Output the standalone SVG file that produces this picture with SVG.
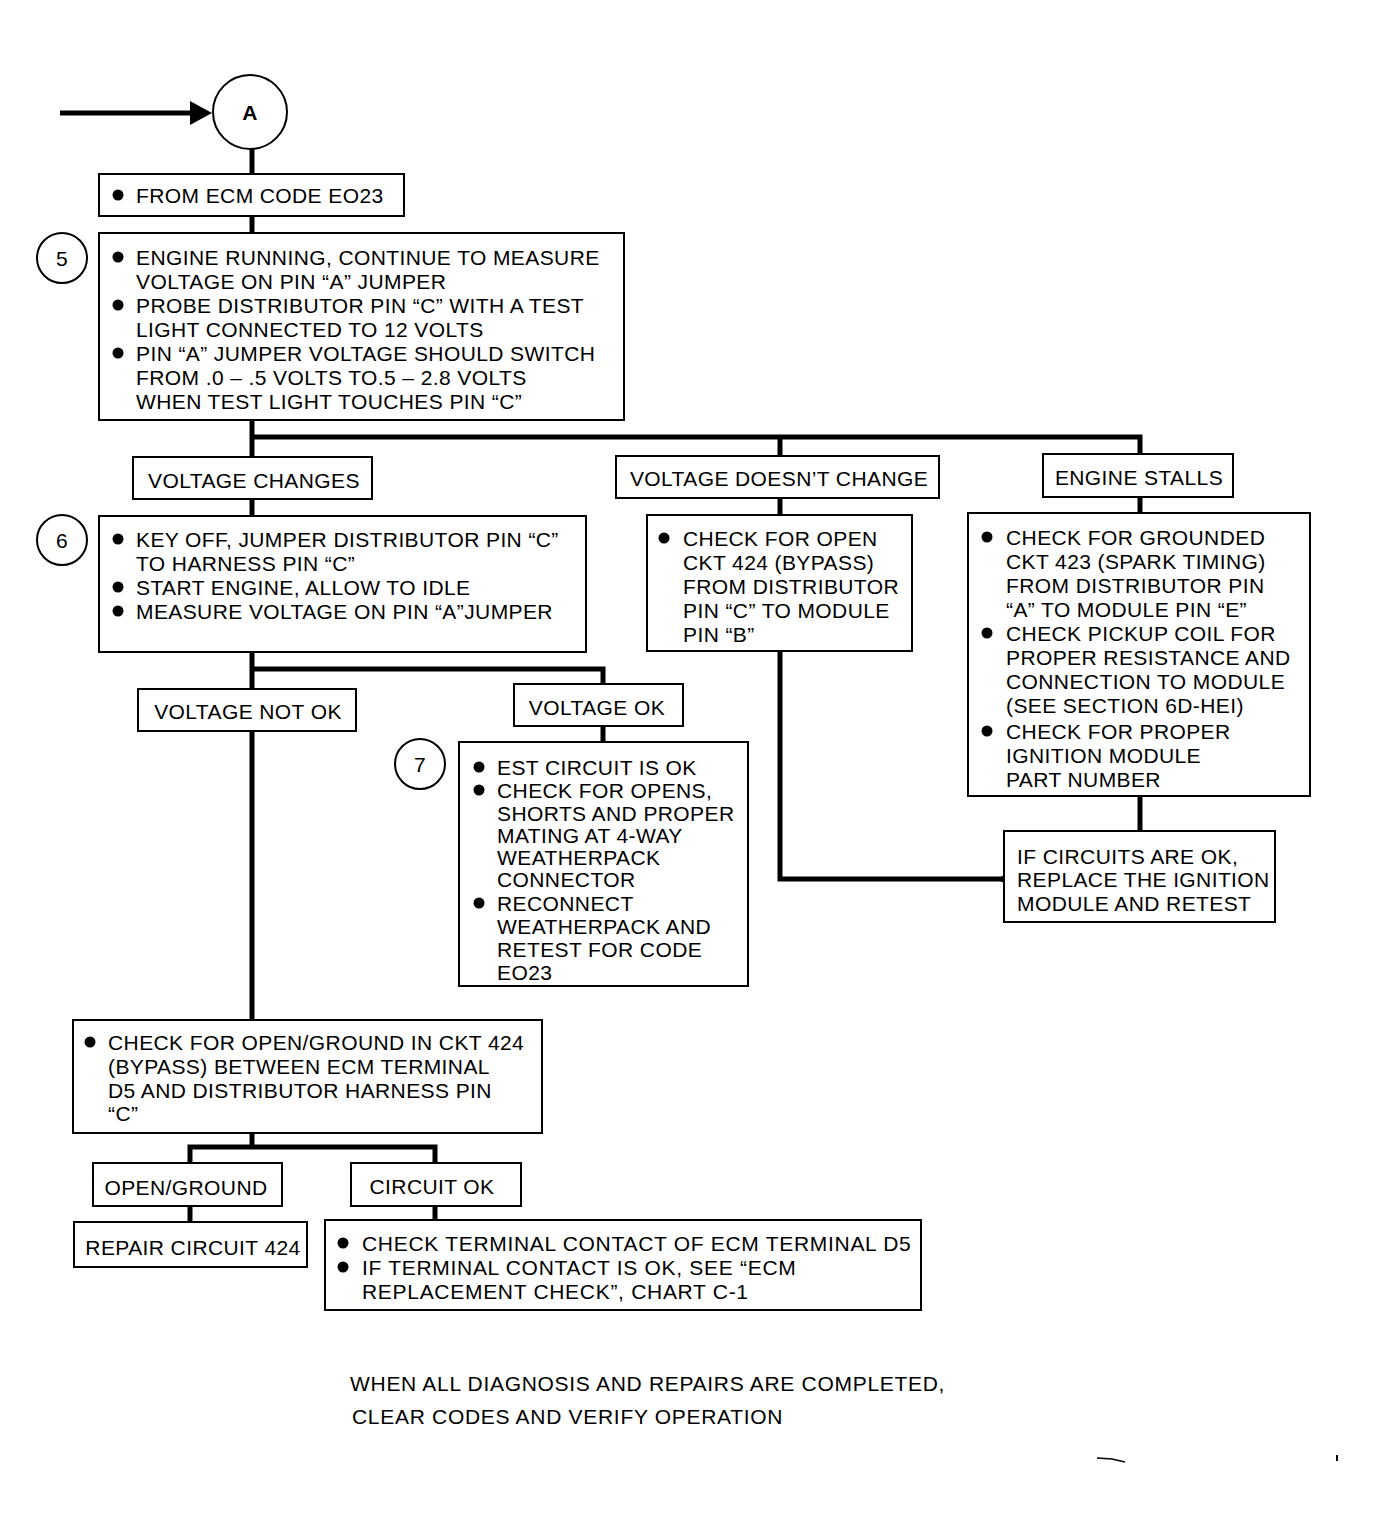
<svg xmlns="http://www.w3.org/2000/svg" width="1378" height="1538" viewBox="0 0 1378 1538">
<style>
.t{font-family:"Liberation Sans",Arial,sans-serif;font-size:21px;letter-spacing:0.4px;fill:#000}
.w{letter-spacing:0.7px}
.m{text-anchor:middle}
.bx{fill:#fff;stroke:#000;stroke-width:2}
.cn{fill:none;stroke:#000;stroke-width:5}
.ci{fill:#fff;stroke:#000;stroke-width:2}
</style>
<rect width="1378" height="1538" fill="#fff"/>
<g id="connectors">
<line class="cn" x1="60" y1="113" x2="195" y2="113"/>
<polygon points="190,101 212,113 190,125" fill="#000"/>
<line class="cn" x1="252" y1="148" x2="252" y2="174"/>
<line class="cn" x1="252" y1="216" x2="252" y2="233"/>
<polyline class="cn" points="252,420 252,516"/>
<polyline class="cn" points="252,437 1140,437 1140,454"/>
<line class="cn" x1="780" y1="437" x2="780" y2="456"/>
<line class="cn" x1="780" y1="498" x2="780" y2="515"/>
<line class="cn" x1="1140" y1="497" x2="1140" y2="513"/>
<line class="cn" x1="1140" y1="796" x2="1140" y2="831"/>
<polyline class="cn" points="780,651 780,879 1004,879"/>
<circle cx="1004" cy="879" r="3.5" fill="#000"/>
<line class="cn" x1="252" y1="652" x2="252" y2="1020"/>
<polyline class="cn" points="252,669 603,669 603,684"/>
<line class="cn" x1="603" y1="726" x2="603" y2="742"/>
<line class="cn" x1="252" y1="1133" x2="252" y2="1147"/>
<polyline class="cn" points="190,1163 190,1147 435,1147 435,1163"/>
<line class="cn" x1="190" y1="1206" x2="190" y2="1222"/>
<line class="cn" x1="435" y1="1206" x2="435" y2="1220"/>
</g>
<g id="nodeA">
<circle class="ci" cx="250" cy="112" r="37"/>
<text class="t m" x="250" y="120" font-size="22" font-weight="bold">A</text>
</g>
<g id="box1">
<rect class="bx" x="99" y="174" width="305" height="42"/>
<circle cx="118" cy="195" r="5.5"/>
<text class="t" x="136" y="203">FROM ECM CODE EO23</text>
</g>
<g id="step5">
<circle class="ci" cx="62" cy="258" r="25"/>
<text class="t m" x="62" y="266">5</text>
</g>
<g id="box5">
<rect class="bx" x="99" y="233" width="525" height="187"/>
<circle cx="118" cy="257" r="5.5"/>
<circle cx="118" cy="305" r="5.5"/>
<circle cx="118" cy="353" r="5.5"/>
<text class="t" x="136" y="265">ENGINE RUNNING, CONTINUE TO MEASURE</text>
<text class="t" x="136" y="289">VOLTAGE ON PIN “A” JUMPER</text>
<text class="t" x="136" y="313">PROBE DISTRIBUTOR PIN “C” WITH A TEST</text>
<text class="t" x="136" y="337">LIGHT CONNECTED TO 12 VOLTS</text>
<text class="t" x="136" y="361">PIN “A” JUMPER VOLTAGE SHOULD SWITCH</text>
<text class="t" x="136" y="385">FROM .0 – .5 VOLTS TO.5 – 2.8 VOLTS</text>
<text class="t" x="136" y="409">WHEN TEST LIGHT TOUCHES PIN “C”</text>
</g>
<g id="voltageChanges">
<rect class="bx" x="133" y="457" width="239" height="42"/>
<text class="t m" x="254" y="488">VOLTAGE CHANGES</text>
</g>
<g id="voltageDoesntChange">
<rect class="bx" x="616" y="456" width="323" height="42"/>
<text class="t m" x="779" y="486">VOLTAGE DOESN’T CHANGE</text>
</g>
<g id="engineStalls">
<rect class="bx" x="1043" y="454" width="190" height="43"/>
<text class="t m" x="1139" y="485">ENGINE STALLS</text>
</g>
<g id="step6">
<circle class="ci" cx="62" cy="540" r="25"/>
<text class="t m" x="62" y="548">6</text>
</g>
<g id="box6">
<rect class="bx" x="99" y="516" width="487" height="136"/>
<circle cx="118" cy="539" r="5.5"/>
<circle cx="118" cy="587" r="5.5"/>
<circle cx="118" cy="611" r="5.5"/>
<text class="t" x="136" y="547">KEY OFF, JUMPER DISTRIBUTOR PIN “C”</text>
<text class="t" x="136" y="571">TO HARNESS PIN “C”</text>
<text class="t" x="136" y="595">START ENGINE, ALLOW TO IDLE</text>
<text class="t" x="136" y="619">MEASURE VOLTAGE ON PIN “A”JUMPER</text>
</g>
<g id="boxOpen424">
<rect class="bx" x="647" y="515" width="265" height="136"/>
<circle cx="664" cy="538" r="5.5"/>
<text class="t" x="683" y="546">CHECK FOR OPEN</text>
<text class="t" x="683" y="570">CKT 424 (BYPASS)</text>
<text class="t" x="683" y="594">FROM DISTRIBUTOR</text>
<text class="t" x="683" y="618">PIN “C” TO MODULE</text>
<text class="t" x="683" y="642">PIN “B”</text>
</g>
<g id="boxGrounded">
<rect class="bx" x="968" y="513" width="342" height="283"/>
<circle cx="987" cy="537" r="5.5"/>
<circle cx="987" cy="633" r="5.5"/>
<circle cx="987" cy="731" r="5.5"/>
<text class="t" x="1006" y="545">CHECK FOR GROUNDED</text>
<text class="t" x="1006" y="569">CKT 423 (SPARK TIMING)</text>
<text class="t" x="1006" y="593">FROM DISTRIBUTOR PIN</text>
<text class="t" x="1006" y="617">“A” TO MODULE PIN “E”</text>
<text class="t" x="1006" y="641">CHECK PICKUP COIL FOR</text>
<text class="t" x="1006" y="665">PROPER RESISTANCE AND</text>
<text class="t" x="1006" y="689">CONNECTION TO MODULE</text>
<text class="t" x="1006" y="713">(SEE SECTION 6D-HEI)</text>
<text class="t" x="1006" y="739">CHECK FOR PROPER</text>
<text class="t" x="1006" y="763">IGNITION MODULE</text>
<text class="t" x="1006" y="787">PART NUMBER</text>
</g>
<g id="boxReplace">
<rect class="bx" x="1004" y="831" width="271" height="91"/>
<text class="t" x="1017" y="864">IF CIRCUITS ARE OK,</text>
<text class="t" x="1017" y="887">REPLACE THE IGNITION</text>
<text class="t" x="1017" y="911">MODULE AND RETEST</text>
</g>
<g id="voltageNotOk">
<rect class="bx" x="138" y="689" width="218" height="42"/>
<text class="t m" x="248" y="719">VOLTAGE NOT OK</text>
</g>
<g id="voltageOk">
<rect class="bx" x="514" y="684" width="169" height="42"/>
<text class="t m" x="597" y="715">VOLTAGE OK</text>
</g>
<g id="step7">
<circle class="ci" cx="420" cy="764" r="25"/>
<text class="t m" x="420" y="772">7</text>
</g>
<g id="box7">
<rect class="bx" x="459" y="742" width="289" height="244"/>
<circle cx="479" cy="767" r="5.5"/>
<circle cx="479" cy="790" r="5.5"/>
<circle cx="479" cy="903" r="5.5"/>
<text class="t" x="497" y="775">EST CIRCUIT IS OK</text>
<text class="t" x="497" y="798">CHECK FOR OPENS,</text>
<text class="t" x="497" y="821">SHORTS AND PROPER</text>
<text class="t" x="497" y="843">MATING AT 4-WAY</text>
<text class="t" x="497" y="865">WEATHERPACK</text>
<text class="t" x="497" y="887">CONNECTOR</text>
<text class="t" x="497" y="911">RECONNECT</text>
<text class="t" x="497" y="934">WEATHERPACK AND</text>
<text class="t" x="497" y="957">RETEST FOR CODE</text>
<text class="t" x="497" y="980">EO23</text>
</g>
<g id="boxOpenGround">
<rect class="bx" x="73" y="1020" width="469" height="113"/>
<circle cx="90" cy="1042" r="5.5"/>
<text class="t" x="108" y="1050">CHECK FOR OPEN/GROUND IN CKT 424</text>
<text class="t" x="108" y="1074">(BYPASS) BETWEEN ECM TERMINAL</text>
<text class="t" x="108" y="1098">D5 AND DISTRIBUTOR HARNESS PIN</text>
<text class="t" x="108" y="1121">“C”</text>
</g>
<g id="openGround">
<rect class="bx" x="93" y="1163" width="189" height="43"/>
<text class="t m" x="186" y="1195">OPEN/GROUND</text>
</g>
<g id="circuitOk">
<rect class="bx" x="351" y="1163" width="170" height="43"/>
<text class="t m" x="432" y="1194">CIRCUIT OK</text>
</g>
<g id="repair424">
<rect class="bx" x="74" y="1222" width="233" height="45"/>
<text class="t m" x="193" y="1255">REPAIR CIRCUIT 424</text>
</g>
<g id="boxTerminal">
<rect class="bx" x="325" y="1220" width="596" height="90"/>
<circle cx="343" cy="1243" r="5.5"/>
<circle cx="343" cy="1267" r="5.5"/>
<text class="t w" x="362" y="1251">CHECK TERMINAL CONTACT OF ECM TERMINAL D5</text>
<text class="t w" x="362" y="1275">IF TERMINAL CONTACT IS OK, SEE “ECM</text>
<text class="t w" x="362" y="1299">REPLACEMENT CHECK”, CHART C-1</text>
</g>
<g id="footer">
<text class="t w" x="350" y="1391">WHEN ALL DIAGNOSIS AND REPAIRS ARE COMPLETED,</text>
<text class="t w" x="352" y="1424">CLEAR CODES AND VERIFY OPERATION</text>
</g>
<path d="M1097 1458 L1112 1459 L1125 1462" fill="none" stroke="#000" stroke-width="1.5"/>
<line x1="1337" y1="1455" x2="1337" y2="1461" stroke="#000" stroke-width="2"/>
</svg>
